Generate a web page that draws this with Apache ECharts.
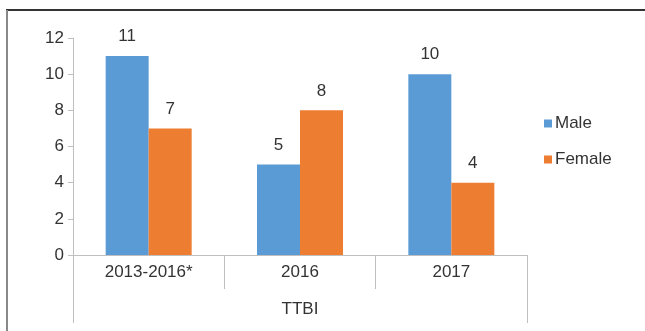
<!DOCTYPE html>
<html>
<head>
<meta charset="utf-8">
<script src="https://cdn.jsdelivr.net/npm/echarts@6/dist/echarts.min.js"></script>
<style>
  html, body { margin: 0; padding: 0; background: #fff; }
  #chart { width: 645px; height: 331px; }
</style>
</head>
<body>
<div id="chart"></div>
<script>
// Chart data
const categories = ['2013-2016*', '2016', '2017'];
const groupLabel = ['TTBI'];
const maleValues = [11, 5, 10];
const femaleValues = [7, 8, 4];
const yTicks = { min: 0, max: 12, step: 2 };

const chart = echarts.init(document.getElementById('chart'), null, { renderer: 'canvas' });

const axisGray = '#BFBFBF';
const textColor = '#333333';
const fontFamily = 'Liberation Sans, Arial, sans-serif';
const fontSize = 17;

const labelStyle = {
  show: true,
  position: 'top',
  distance: 11,
  color: textColor,
  fontSize: fontSize,
  fontFamily: fontFamily
};

chart.setOption({
  animation: false,
  backgroundColor: '#ffffff',
  grid: { left: 73, top: 38, width: 454, bottom: 76, containLabel: false },
  legend: {
    orient: 'vertical',
    left: 539,
    top: 110,
    itemWidth: 8,
    itemHeight: 8,
    itemGap: 19,
    icon: 'rect',
    textStyle: { color: textColor, fontSize: fontSize, fontFamily: fontFamily, padding: [0, 0, 0, -2] },
    data: ['Male', 'Female']
  },
  xAxis: [
    {
      type: 'category',
      data: categories,
      position: 'bottom',
      axisLine: { show: true, lineStyle: { color: axisGray, width: 1 } },
      axisTick: { show: true, interval: 0, alignWithLabel: false, length: 34, lineStyle: { color: axisGray } },
      axisLabel: { margin: 9, color: textColor, fontSize: fontSize, fontFamily: fontFamily },
      splitLine: { show: false }
    },
    {
      type: 'category',
      data: groupLabel,
      position: 'bottom',
      axisLine: { show: false },
      axisTick: { show: true, interval: 0, alignWithLabel: false, length: 68, lineStyle: { color: axisGray } },
      axisLabel: { margin: 46, color: textColor, fontSize: fontSize, fontFamily: fontFamily },
      splitLine: { show: false }
    }
  ],
  yAxis: {
    type: 'value',
    min: yTicks.min,
    max: yTicks.max,
    interval: yTicks.step,
    axisLine: { show: true, lineStyle: { color: axisGray, width: 1 } },
    axisTick: { show: true, length: 5, lineStyle: { color: axisGray } },
    axisLabel: { margin: 9, color: textColor, fontSize: fontSize, fontFamily: fontFamily },
    splitLine: { show: false }
  },
  series: [
    {
      name: 'Male',
      type: 'bar',
      data: maleValues,
      barWidth: 43,
      barGap: '0%',
      itemStyle: { color: '#5B9BD5' },
      label: labelStyle
    },
    {
      name: 'Female',
      type: 'bar',
      data: femaleValues,
      barWidth: 43,
      barGap: '0%',
      itemStyle: { color: '#ED7D31' },
      label: labelStyle
    }
  ],
  graphic: [
    { type: 'line', shape: { x1: 6, y1: 10, x2: 645, y2: 10 }, style: { stroke: '#333333', lineWidth: 2 } },
    { type: 'line', shape: { x1: 7, y1: 10, x2: 7, y2: 331 }, style: { stroke: '#888888', lineWidth: 2 } }
  ]
});
</script>
</body>
</html>
